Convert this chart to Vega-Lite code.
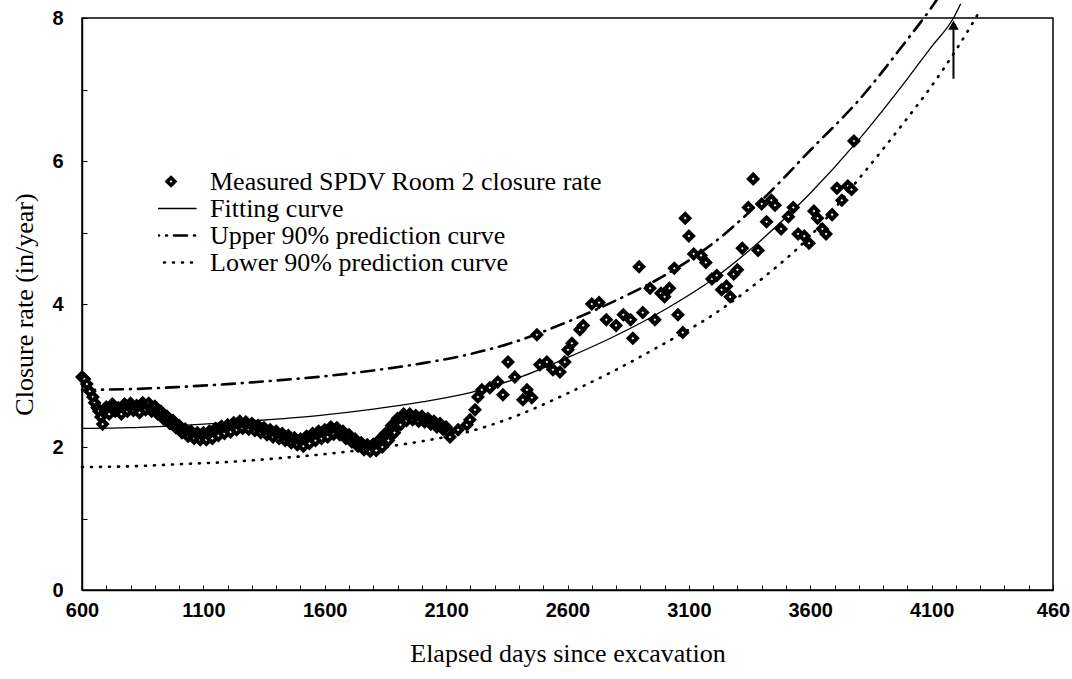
{
  "$schema": "https://vega.github.io/schema/vega-lite/v6.json",
  "width": 971,
  "height": 572,
  "autosize": "none",
  "padding": {"left": 82, "top": 18, "right": 19, "bottom": 89},
  "background": "white",
  "config": {
    "view": {"stroke": "black", "strokeWidth": 1.5},
    "axis": {
      "grid": false,
      "domainColor": "black",
      "domainWidth": 1.5,
      "tickColor": "black",
      "tickWidth": 1,
      "tickSize": -5,
      "labelColor": "black",
      "labelFont": "Liberation Sans Narrow, Liberation Sans",
      "labelFontWeight": "bold",
      "labelFontSize": 20,
      "labelOverlap": false,
      "labelFlush": false,
      "titleFont": "Liberation Serif",
      "titleFontWeight": "normal",
      "titleFontSize": 26,
      "titleColor": "black"
    }
  },
  "resolve": {"axis": {"x": "independent"}},
  "datasets": {
    "fit": [
      {"day": 600, "rate": 2.26}, {"day": 800, "rate": 2.27}, {"day": 1000, "rate": 2.30}, {"day": 1200, "rate": 2.34},
      {"day": 1400, "rate": 2.39}, {"day": 1600, "rate": 2.45}, {"day": 1800, "rate": 2.53}, {"day": 2000, "rate": 2.63},
      {"day": 2200, "rate": 2.76}, {"day": 2400, "rate": 2.97}, {"day": 2600, "rate": 3.25}, {"day": 2800, "rate": 3.56},
      {"day": 3000, "rate": 3.92}, {"day": 3200, "rate": 4.35}, {"day": 3400, "rate": 4.90}, {"day": 3600, "rate": 5.55},
      {"day": 3800, "rate": 6.30}, {"day": 4000, "rate": 7.15}, {"day": 4100, "rate": 7.60}, {"day": 4190, "rate": 8.00},
      {"day": 4220, "rate": 8.20}
    ],
    "bands": [
      {"day": 600, "rate": 2.80, "series": "Upper 90% prediction curve"},
      {"day": 800, "rate": 2.81, "series": "Upper 90% prediction curve"},
      {"day": 1000, "rate": 2.84, "series": "Upper 90% prediction curve"},
      {"day": 1200, "rate": 2.88, "series": "Upper 90% prediction curve"},
      {"day": 1400, "rate": 2.93, "series": "Upper 90% prediction curve"},
      {"day": 1600, "rate": 2.99, "series": "Upper 90% prediction curve"},
      {"day": 1800, "rate": 3.07, "series": "Upper 90% prediction curve"},
      {"day": 2000, "rate": 3.17, "series": "Upper 90% prediction curve"},
      {"day": 2200, "rate": 3.30, "series": "Upper 90% prediction curve"},
      {"day": 2400, "rate": 3.49, "series": "Upper 90% prediction curve"},
      {"day": 2600, "rate": 3.75, "series": "Upper 90% prediction curve"},
      {"day": 2800, "rate": 4.05, "series": "Upper 90% prediction curve"},
      {"day": 3000, "rate": 4.40, "series": "Upper 90% prediction curve"},
      {"day": 3200, "rate": 4.85, "series": "Upper 90% prediction curve"},
      {"day": 3400, "rate": 5.45, "series": "Upper 90% prediction curve"},
      {"day": 3600, "rate": 6.15, "series": "Upper 90% prediction curve"},
      {"day": 3800, "rate": 6.85, "series": "Upper 90% prediction curve"},
      {"day": 4000, "rate": 7.70, "series": "Upper 90% prediction curve"},
      {"day": 4100, "rate": 8.15, "series": "Upper 90% prediction curve"},
      {"day": 4130, "rate": 8.30, "series": "Upper 90% prediction curve"},
      {"day": 600, "rate": 1.72, "series": "Lower 90% prediction curve"},
      {"day": 800, "rate": 1.73, "series": "Lower 90% prediction curve"},
      {"day": 1000, "rate": 1.76, "series": "Lower 90% prediction curve"},
      {"day": 1200, "rate": 1.79, "series": "Lower 90% prediction curve"},
      {"day": 1400, "rate": 1.84, "series": "Lower 90% prediction curve"},
      {"day": 1600, "rate": 1.90, "series": "Lower 90% prediction curve"},
      {"day": 1800, "rate": 1.98, "series": "Lower 90% prediction curve"},
      {"day": 2000, "rate": 2.08, "series": "Lower 90% prediction curve"},
      {"day": 2200, "rate": 2.22, "series": "Lower 90% prediction curve"},
      {"day": 2400, "rate": 2.45, "series": "Lower 90% prediction curve"},
      {"day": 2600, "rate": 2.75, "series": "Lower 90% prediction curve"},
      {"day": 2800, "rate": 3.08, "series": "Lower 90% prediction curve"},
      {"day": 3000, "rate": 3.45, "series": "Lower 90% prediction curve"},
      {"day": 3200, "rate": 3.85, "series": "Lower 90% prediction curve"},
      {"day": 3400, "rate": 4.35, "series": "Lower 90% prediction curve"},
      {"day": 3600, "rate": 4.95, "series": "Lower 90% prediction curve"},
      {"day": 3800, "rate": 5.75, "series": "Lower 90% prediction curve"},
      {"day": 4000, "rate": 6.60, "series": "Lower 90% prediction curve"},
      {"day": 4100, "rate": 7.05, "series": "Lower 90% prediction curve"},
      {"day": 4200, "rate": 7.55, "series": "Lower 90% prediction curve"},
      {"day": 4290, "rate": 8.05, "series": "Lower 90% prediction curve"}
    ],
    "measured": [
      {"day": 600, "rate": 2.98}, {"day": 610, "rate": 2.95}, {"day": 620, "rate": 2.88}, {"day": 632, "rate": 2.78},
      {"day": 645, "rate": 2.70}, {"day": 652, "rate": 2.62}, {"day": 662, "rate": 2.55}, {"day": 670, "rate": 2.50},
      {"day": 678, "rate": 2.42}, {"day": 685, "rate": 2.32}, {"day": 692, "rate": 2.48}, {"day": 700, "rate": 2.56},
      {"day": 706, "rate": 2.51}, {"day": 712, "rate": 2.46}, {"day": 725, "rate": 2.60}, {"day": 731, "rate": 2.55},
      {"day": 737, "rate": 2.50}, {"day": 750, "rate": 2.55}, {"day": 756, "rate": 2.50}, {"day": 762, "rate": 2.46},
      {"day": 775, "rate": 2.60}, {"day": 781, "rate": 2.55}, {"day": 787, "rate": 2.50}, {"day": 800, "rate": 2.61},
      {"day": 806, "rate": 2.56}, {"day": 812, "rate": 2.51}, {"day": 825, "rate": 2.58}, {"day": 831, "rate": 2.53},
      {"day": 837, "rate": 2.48}, {"day": 850, "rate": 2.62}, {"day": 856, "rate": 2.57}, {"day": 862, "rate": 2.52},
      {"day": 875, "rate": 2.61}, {"day": 881, "rate": 2.55}, {"day": 887, "rate": 2.50}, {"day": 900, "rate": 2.57},
      {"day": 906, "rate": 2.51}, {"day": 912, "rate": 2.46}, {"day": 925, "rate": 2.50}, {"day": 931, "rate": 2.44},
      {"day": 937, "rate": 2.39}, {"day": 950, "rate": 2.43}, {"day": 956, "rate": 2.38}, {"day": 962, "rate": 2.33},
      {"day": 975, "rate": 2.37}, {"day": 981, "rate": 2.32}, {"day": 987, "rate": 2.27}, {"day": 1000, "rate": 2.30},
      {"day": 1006, "rate": 2.25}, {"day": 1012, "rate": 2.20}, {"day": 1025, "rate": 2.25}, {"day": 1031, "rate": 2.20},
      {"day": 1037, "rate": 2.15}, {"day": 1050, "rate": 2.22}, {"day": 1056, "rate": 2.17}, {"day": 1062, "rate": 2.12},
      {"day": 1075, "rate": 2.20}, {"day": 1081, "rate": 2.15}, {"day": 1087, "rate": 2.10}, {"day": 1100, "rate": 2.20},
      {"day": 1106, "rate": 2.15}, {"day": 1112, "rate": 2.10}, {"day": 1125, "rate": 2.22}, {"day": 1131, "rate": 2.17},
      {"day": 1137, "rate": 2.12}, {"day": 1150, "rate": 2.26}, {"day": 1156, "rate": 2.21}, {"day": 1162, "rate": 2.16},
      {"day": 1175, "rate": 2.29}, {"day": 1181, "rate": 2.24}, {"day": 1187, "rate": 2.19}, {"day": 1200, "rate": 2.31},
      {"day": 1206, "rate": 2.26}, {"day": 1212, "rate": 2.21}, {"day": 1225, "rate": 2.34}, {"day": 1231, "rate": 2.29},
      {"day": 1237, "rate": 2.24}, {"day": 1250, "rate": 2.36}, {"day": 1256, "rate": 2.31}, {"day": 1262, "rate": 2.26},
      {"day": 1275, "rate": 2.35}, {"day": 1281, "rate": 2.30}, {"day": 1287, "rate": 2.25}, {"day": 1300, "rate": 2.33},
      {"day": 1306, "rate": 2.28}, {"day": 1312, "rate": 2.23}, {"day": 1325, "rate": 2.30}, {"day": 1331, "rate": 2.25},
      {"day": 1337, "rate": 2.20}, {"day": 1350, "rate": 2.27}, {"day": 1356, "rate": 2.22}, {"day": 1362, "rate": 2.17},
      {"day": 1375, "rate": 2.24}, {"day": 1381, "rate": 2.19}, {"day": 1387, "rate": 2.14}, {"day": 1400, "rate": 2.22},
      {"day": 1406, "rate": 2.17}, {"day": 1412, "rate": 2.12}, {"day": 1425, "rate": 2.19}, {"day": 1431, "rate": 2.14},
      {"day": 1437, "rate": 2.09}, {"day": 1450, "rate": 2.16}, {"day": 1456, "rate": 2.11}, {"day": 1462, "rate": 2.06},
      {"day": 1475, "rate": 2.13}, {"day": 1481, "rate": 2.08}, {"day": 1487, "rate": 2.03}, {"day": 1500, "rate": 2.11},
      {"day": 1506, "rate": 2.06}, {"day": 1512, "rate": 2.01}, {"day": 1525, "rate": 2.15}, {"day": 1531, "rate": 2.10},
      {"day": 1537, "rate": 2.05}, {"day": 1550, "rate": 2.19}, {"day": 1556, "rate": 2.14}, {"day": 1562, "rate": 2.09},
      {"day": 1575, "rate": 2.22}, {"day": 1581, "rate": 2.17}, {"day": 1587, "rate": 2.12}, {"day": 1600, "rate": 2.24},
      {"day": 1606, "rate": 2.19}, {"day": 1612, "rate": 2.14}, {"day": 1625, "rate": 2.28}, {"day": 1631, "rate": 2.23},
      {"day": 1637, "rate": 2.18}, {"day": 1650, "rate": 2.27}, {"day": 1656, "rate": 2.22}, {"day": 1662, "rate": 2.17},
      {"day": 1675, "rate": 2.22}, {"day": 1681, "rate": 2.17}, {"day": 1687, "rate": 2.12}, {"day": 1700, "rate": 2.17},
      {"day": 1706, "rate": 2.12}, {"day": 1712, "rate": 2.07}, {"day": 1725, "rate": 2.11}, {"day": 1731, "rate": 2.06},
      {"day": 1737, "rate": 2.01}, {"day": 1750, "rate": 2.06}, {"day": 1756, "rate": 2.01}, {"day": 1762, "rate": 1.96},
      {"day": 1775, "rate": 2.03}, {"day": 1781, "rate": 1.98}, {"day": 1787, "rate": 1.94}, {"day": 1800, "rate": 2.04},
      {"day": 1806, "rate": 1.99}, {"day": 1812, "rate": 1.95}, {"day": 1825, "rate": 2.10}, {"day": 1831, "rate": 2.05},
      {"day": 1837, "rate": 2.00}, {"day": 1850, "rate": 2.19}, {"day": 1856, "rate": 2.14}, {"day": 1862, "rate": 2.09},
      {"day": 1875, "rate": 2.30}, {"day": 1881, "rate": 2.25}, {"day": 1887, "rate": 2.20}, {"day": 1900, "rate": 2.40},
      {"day": 1906, "rate": 2.35}, {"day": 1912, "rate": 2.31}, {"day": 1925, "rate": 2.46}, {"day": 1931, "rate": 2.41},
      {"day": 1937, "rate": 2.37}, {"day": 1950, "rate": 2.46}, {"day": 1956, "rate": 2.42}, {"day": 1962, "rate": 2.38},
      {"day": 1975, "rate": 2.44}, {"day": 1981, "rate": 2.40}, {"day": 1987, "rate": 2.36}, {"day": 2000, "rate": 2.43},
      {"day": 2006, "rate": 2.39}, {"day": 2012, "rate": 2.35}, {"day": 2025, "rate": 2.40}, {"day": 2031, "rate": 2.36},
      {"day": 2037, "rate": 2.32}, {"day": 2050, "rate": 2.36}, {"day": 2056, "rate": 2.32}, {"day": 2062, "rate": 2.28},
      {"day": 2075, "rate": 2.33}, {"day": 2081, "rate": 2.29}, {"day": 2087, "rate": 2.25}, {"day": 2100, "rate": 2.28},
      {"day": 2105, "rate": 2.24}, {"day": 2110, "rate": 2.20}, {"day": 2116, "rate": 2.14}, {"day": 2149, "rate": 2.24},
      {"day": 2186, "rate": 2.31}, {"day": 2198, "rate": 2.38}, {"day": 2219, "rate": 2.52}, {"day": 2231, "rate": 2.70},
      {"day": 2247, "rate": 2.80}, {"day": 2280, "rate": 2.83}, {"day": 2313, "rate": 2.91}, {"day": 2334, "rate": 2.73},
      {"day": 2355, "rate": 3.19}, {"day": 2383, "rate": 2.98}, {"day": 2416, "rate": 2.66}, {"day": 2433, "rate": 2.80},
      {"day": 2453, "rate": 2.69}, {"day": 2474, "rate": 3.57}, {"day": 2486, "rate": 3.15}, {"day": 2515, "rate": 3.19},
      {"day": 2540, "rate": 3.08}, {"day": 2569, "rate": 3.05}, {"day": 2589, "rate": 3.19}, {"day": 2602, "rate": 3.36},
      {"day": 2618, "rate": 3.45}, {"day": 2651, "rate": 3.64}, {"day": 2665, "rate": 3.70}, {"day": 2700, "rate": 4.00},
      {"day": 2730, "rate": 4.02}, {"day": 2760, "rate": 3.78}, {"day": 2800, "rate": 3.70}, {"day": 2830, "rate": 3.85},
      {"day": 2860, "rate": 3.78}, {"day": 2869, "rate": 3.52}, {"day": 2895, "rate": 4.52}, {"day": 2910, "rate": 3.88},
      {"day": 2940, "rate": 4.22}, {"day": 2960, "rate": 3.78}, {"day": 2985, "rate": 4.15}, {"day": 3000, "rate": 4.10},
      {"day": 3020, "rate": 4.22}, {"day": 3040, "rate": 4.50}, {"day": 3055, "rate": 3.85}, {"day": 3075, "rate": 3.60},
      {"day": 3085, "rate": 5.20}, {"day": 3100, "rate": 4.95}, {"day": 3120, "rate": 4.70}, {"day": 3150, "rate": 4.68},
      {"day": 3170, "rate": 4.58}, {"day": 3195, "rate": 4.35}, {"day": 3215, "rate": 4.40}, {"day": 3235, "rate": 4.20},
      {"day": 3255, "rate": 4.25}, {"day": 3270, "rate": 4.10}, {"day": 3285, "rate": 4.42}, {"day": 3300, "rate": 4.48},
      {"day": 3320, "rate": 4.78}, {"day": 3345, "rate": 5.35}, {"day": 3365, "rate": 5.75}, {"day": 3385, "rate": 4.75},
      {"day": 3400, "rate": 5.40}, {"day": 3420, "rate": 5.15}, {"day": 3440, "rate": 5.45}, {"day": 3455, "rate": 5.38},
      {"day": 3480, "rate": 5.05}, {"day": 3510, "rate": 5.22}, {"day": 3530, "rate": 5.35}, {"day": 3550, "rate": 4.98},
      {"day": 3575, "rate": 4.95}, {"day": 3595, "rate": 4.85}, {"day": 3615, "rate": 5.30}, {"day": 3630, "rate": 5.20},
      {"day": 3650, "rate": 5.05}, {"day": 3665, "rate": 4.98}, {"day": 3690, "rate": 5.25}, {"day": 3710, "rate": 5.62},
      {"day": 3730, "rate": 5.45}, {"day": 3755, "rate": 5.65}, {"day": 3770, "rate": 5.60}, {"day": 3780, "rate": 6.28}
    ],
    "arrow": [{"day": 4190, "from": 7.15, "to": 7.85, "tip": 7.9}]
  },
  "layer": [
    {
      "data": {"name": "fit"},
      "mark": {"type": "line", "interpolate": "monotone", "color": "black", "strokeWidth": 1.3},
      "encoding": {
        "x": {
          "field": "day", "type": "quantitative",
          "scale": {"domain": [600, 4600], "nice": false, "zero": false},
          "axis": {
            "orient": "bottom",
            "title": "Elapsed days since excavation",
            "values": [600, 1100, 1600, 2100, 2600, 3100, 3600, 4100, 4600],
            "format": "d",
            "labelExpr": "datum.value === 4600 ? '460' : datum.label",
            "labelOverlap": false,
            "labelPadding": 15,
            "titlePadding": 20
          }
        },
        "y": {
          "field": "rate", "type": "quantitative",
          "scale": {"domain": [0, 8], "nice": false},
          "axis": {
            "title": "Closure rate (in/year)",
            "values": [0,0.5,1,1.5,2,2.5,3,3.5,4,4.5,5,5.5,6,6.5,7,7.5,8],
            "format": "d",
            "labelExpr": "datum.value % 2 === 0 ? datum.label : ''",
            "labelOverlap": false,
            "labelPadding": 24,
            "titlePadding": 14
          }
        }
      }
    },
    {
      "data": {"name": "bands"},
      "mark": {"type": "line", "interpolate": "monotone", "color": "black", "strokeWidth": 2.6, "strokeCap": "round"},
      "encoding": {
        "x": {
          "field": "day", "type": "quantitative",
          "axis": {
            "orient": "bottom",
            "title": null,
            "labels": false,
            "domain": false,
            "values": [700,800,900,1000,1200,1300,1400,1500,1700,1800,1900,2000,2200,2300,2400,2500,2700,2800,2900,3000,3200,3300,3400,3500,3700,3800,3900,4000,4200,4300,4400,4500]
          }
        },
        "y": {"field": "rate", "type": "quantitative"},
        "strokeDash": {
          "field": "series", "type": "nominal",
          "scale": {
            "domain": ["Measured SPDV Room 2 closure rate", "Fitting curve", "Upper 90% prediction curve", "Lower 90% prediction curve"],
            "range": [[1, 0], [1, 0], [13, 7, 1, 7], [1, 8]]
          },
          "legend": {
            "title": null,
            "orient": "none",
            "legendX": 76,
            "legendY": 150,
            "padding": 0,
            "labelFont": "Liberation Serif",
            "labelFontSize": 26,
            "labelColor": "black",
            "labelLimit": 600,
            "labelOffset": 26,
            "symbolSize": 2500,
            "clipHeight": 27,
            "rowPadding": 0,
            "symbolStrokeColor": "black",
            "encode": {
              "symbols": {
                "update": {
                  "shape": {"signal": "datum.value === 'Measured SPDV Room 2 closure rate' ? 'diamond' : 'stroke'"},
                  "size": {"signal": "datum.value === 'Measured SPDV Room 2 closure rate' ? 60 : 2500"},
                  "fill": {"signal": "datum.value === 'Measured SPDV Room 2 closure rate' ? 'white' : 'transparent'"},
                  "stroke": {"value": "black"},
                  "strokeCap": {"value": "round"},
                  "strokeWidth": {"signal": "datum.value === 'Fitting curve' ? 1.3 : (datum.value === 'Measured SPDV Room 2 closure rate' ? 3.5 : 2.6)"}
                }
              }
            }
          }
        }
      }
    },
    {
      "data": {"name": "measured"},
      "mark": {"type": "point", "shape": "diamond", "filled": false, "fill": "white", "fillOpacity": 1, "stroke": "black", "strokeWidth": 4, "size": 70, "opacity": 1},
      "encoding": {
        "x": {"field": "day", "type": "quantitative", "axis": null},
        "y": {"field": "rate", "type": "quantitative"}
      }
    },
    {
      "data": {"name": "arrow"},
      "mark": {"type": "rule", "color": "black", "strokeWidth": 2},
      "encoding": {
        "x": {"field": "day", "type": "quantitative", "axis": null},
        "y": {"field": "from", "type": "quantitative"},
        "y2": {"field": "to"}
      }
    },
    {
      "data": {"name": "arrow"},
      "mark": {"type": "point", "shape": "triangle-up", "filled": true, "color": "black", "size": 110, "opacity": 1},
      "encoding": {
        "x": {"field": "day", "type": "quantitative", "axis": null},
        "y": {"field": "tip", "type": "quantitative"}
      }
    }
  ]
}
